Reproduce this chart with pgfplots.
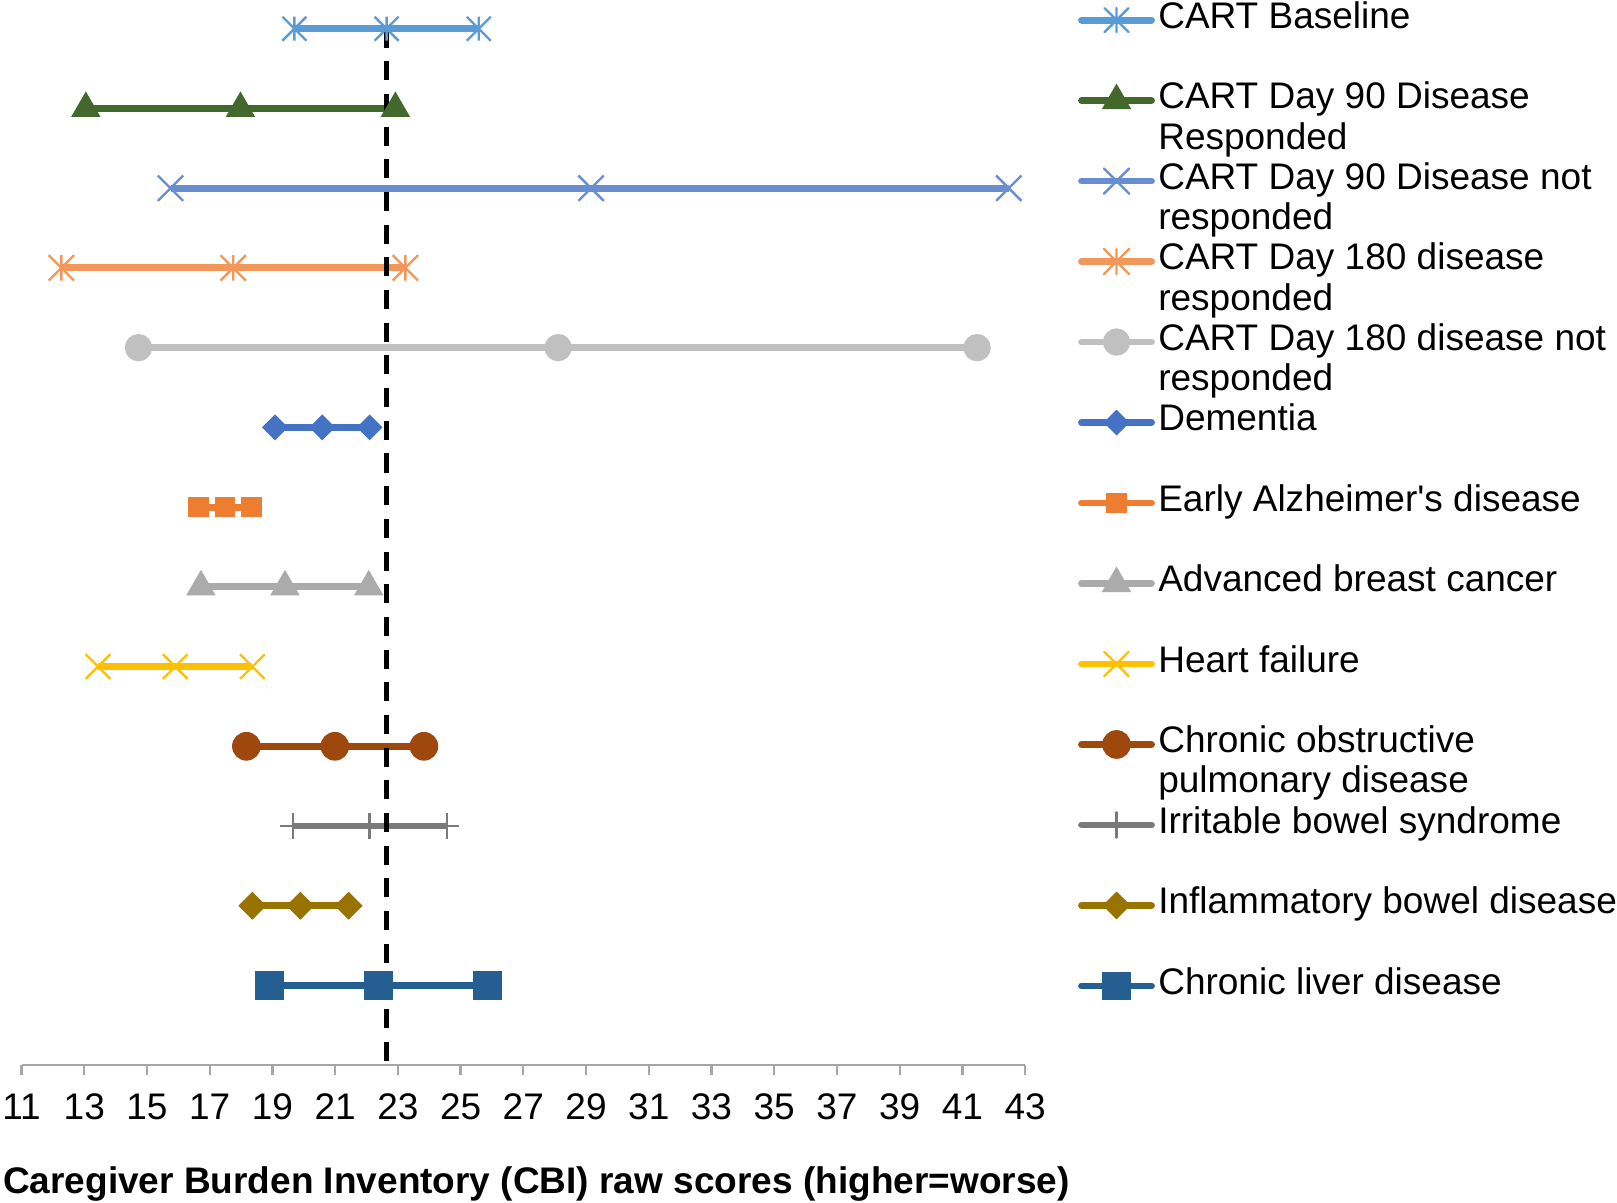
\documentclass[border=0pt]{standalone}
\usepackage{fontspec}
\setmainfont{Liberation Sans}
\usepackage{pgfplots}
\pgfplotsset{compat=1.18}

\definecolor{cA}{HTML}{5B9BD5}
\definecolor{cB}{HTML}{43682B}
\definecolor{cC}{HTML}{698ED0}
\definecolor{cD}{HTML}{F1975A}
\definecolor{cE}{HTML}{C0C0C0}
\definecolor{cF}{HTML}{4472C4}
\definecolor{cG}{HTML}{ED7D31}
\definecolor{cH}{HTML}{ABABAB}
\definecolor{cI}{HTML}{FFC000}
\definecolor{cJ}{HTML}{9E480E}
\definecolor{cK}{HTML}{7A7A7A}
\definecolor{cL}{HTML}{997300}
\definecolor{cM}{HTML}{255E91}
\definecolor{axisgray}{HTML}{A6A6A6}

\pgfdeclareplotmark{xstar}{%
  \pgfpathmoveto{\pgfqpoint{-\pgfplotmarksize}{-\pgfplotmarksize}}%
  \pgfpathlineto{\pgfqpoint{\pgfplotmarksize}{\pgfplotmarksize}}%
  \pgfpathmoveto{\pgfqpoint{-\pgfplotmarksize}{\pgfplotmarksize}}%
  \pgfpathlineto{\pgfqpoint{\pgfplotmarksize}{-\pgfplotmarksize}}%
  \pgfpathmoveto{\pgfqpoint{0pt}{-\pgfplotmarksize}}%
  \pgfpathlineto{\pgfqpoint{0pt}{\pgfplotmarksize}}%
  \pgfusepathqstroke}
\pgfdeclareplotmark{bigx}{%
  \pgfpathmoveto{\pgfqpoint{-\pgfplotmarksize}{-\pgfplotmarksize}}%
  \pgfpathlineto{\pgfqpoint{\pgfplotmarksize}{\pgfplotmarksize}}%
  \pgfpathmoveto{\pgfqpoint{-\pgfplotmarksize}{\pgfplotmarksize}}%
  \pgfpathlineto{\pgfqpoint{\pgfplotmarksize}{-\pgfplotmarksize}}%
  \pgfusepathqstroke}
\pgfdeclareplotmark{sqdiamond*}{%
  \pgfpathmoveto{\pgfqpoint{0pt}{\pgfplotmarksize}}%
  \pgfpathlineto{\pgfqpoint{\pgfplotmarksize}{0pt}}%
  \pgfpathlineto{\pgfqpoint{0pt}{-\pgfplotmarksize}}%
  \pgfpathlineto{\pgfqpoint{-\pgfplotmarksize}{0pt}}%
  \pgfpathclose
  \pgfusepathqfillstroke}

\begin{document}
\begin{tikzpicture}
\begin{axis}[
  scale only axis, width=301pt, height=320.2pt,
  xmin=11, xmax=43, ymin=0, ymax=13.39,
  axis x line*=bottom, axis y line=none,
  x axis line style={-, draw=axisgray, line width=0.7pt},
  xtick={11,13,...,43}, tick align=outside, major tick length=3pt,
  xtick style={draw=axisgray, line width=0.7pt},
  ytick=\empty,
  clip=false,
  /pgf/number format/assume math mode=true,
  ticklabel style={font=\fontsize{11.1}{13}\selectfont, yshift=-2pt, inner xsep=0pt},
  xlabel={Caregiver Burden Inventory (CBI) raw scores (higher=worse)},
  xlabel style={font=\bfseries\fontsize{11.1}{13}\selectfont, at={(axis description cs:0.513,0)}, anchor=center, inner sep=0pt, yshift=-35.5pt},
  legend cell align=left,
  legend style={draw=none, fill=none, at={(rel axis cs:1.0528,0.9978)}, anchor=north west,
    inner sep=0pt, outer sep=0pt,
    row sep=0pt, column sep=1pt,
    nodes={inner sep=0pt, text height=8.5pt, text depth=3.57pt, font=\fontsize{11.1}{12}\selectfont}},
  legend image code/.code={\draw[mark repeat=2,mark phase=2,line cap=round,#1] plot coordinates {(0pt,0pt)(10.5pt,0pt)(21pt,0pt)};},
  every axis plot/.append style={line width=2.05pt},
]
\addplot[cA, mark=xstar, mark size=3.6pt, mark options={line width=0.7pt}] coordinates {(19.70,13)(22.64,13)(25.58,13)};
\addlegendentry{CART Baseline}
\addlegendimage{empty legend}\addlegendentry{\mbox{}}
\addplot[cB, mark=triangle*, mark size=4.7pt, mark options={line width=0.4pt}] coordinates {(13.05,12)(17.98,12)(22.92,12)};
\addlegendentry{CART Day 90 Disease}
\addlegendimage{empty legend}\addlegendentry{Responded}
\addplot[cC, mark=bigx, mark size=3.8pt, mark options={line width=0.7pt}] coordinates {(15.75,11)(29.16,11)(42.48,11)};
\addlegendentry{CART Day 90 Disease not}
\addlegendimage{empty legend}\addlegendentry{responded}
\addplot[cD, mark=xstar, mark size=3.8pt, mark options={line width=0.7pt}] coordinates {(12.27,10)(17.75,10)(23.24,10)};
\addlegendentry{CART Day 180 disease}
\addlegendimage{empty legend}\addlegendentry{responded}
\addplot[cE, mark=*, mark size=3.9pt, mark options={line width=0.4pt}] coordinates {(14.73,9)(28.11,9)(41.47,9)};
\addlegendentry{CART Day 180 disease not}
\addlegendimage{empty legend}\addlegendentry{responded}
\addplot[cF, mark=sqdiamond*, mark size=3.6pt, mark options={line width=0.4pt}] coordinates {(19.08,8)(20.59,8)(22.10,8)};
\addlegendentry{Dementia}
\addlegendimage{empty legend}\addlegendentry{\mbox{}}
\addplot[cG, mark=square*, mark size=2.9pt, mark options={line width=0.4pt}] coordinates {(16.64,7)(17.49,7)(18.34,7)};
\addlegendentry{Early Alzheimer\textquotesingle s disease}
\addlegendimage{empty legend}\addlegendentry{\mbox{}}
\addplot[cH, mark=triangle*, mark size=4.7pt, mark options={line width=0.4pt}] coordinates {(16.72,6)(19.40,6)(22.07,6)};
\addlegendentry{Advanced breast cancer}
\addlegendimage{empty legend}\addlegendentry{\mbox{}}
\addplot[cI, mark=bigx, mark size=3.7pt, mark options={line width=0.7pt}] coordinates {(13.44,5)(15.90,5)(18.36,5)};
\addlegendentry{Heart failure}
\addlegendimage{empty legend}\addlegendentry{\mbox{}}
\addplot[cJ, mark=*, mark size=4.1pt, mark options={line width=0.4pt}] coordinates {(18.17,4)(20.99,4)(23.83,4)};
\addlegendentry{Chronic obstructive}
\addlegendimage{empty legend}\addlegendentry{pulmonary disease}
\addplot[cK, mark=+, mark size=3.8pt, mark options={line width=0.7pt}] coordinates {(19.65,3)(22.10,3)(24.56,3)};
\addlegendentry{Irritable bowel syndrome}
\addlegendimage{empty legend}\addlegendentry{\mbox{}}
\addplot[cL, mark=sqdiamond*, mark size=3.9pt, mark options={line width=0.4pt}] coordinates {(18.36,2)(19.89,2)(21.43,2)};
\addlegendentry{Inflammatory bowel disease}
\addlegendimage{empty legend}\addlegendentry{\mbox{}}
\addplot[cM, mark=square*, mark size=4.1pt, mark options={line width=0.4pt}] coordinates {(18.90,1)(22.39,1)(25.85,1)};
\addlegendentry{Chronic liver disease}
\addplot[black, line width=1.4pt, dash pattern=on 5.7pt off 4.1pt, forget plot] coordinates {(22.63,13)(22.63,0)};
\end{axis}
\path ([xshift=-0.7pt]current bounding box.west);
\path ([yshift=-0.6pt]current bounding box.south);
\end{tikzpicture}
\end{document}
